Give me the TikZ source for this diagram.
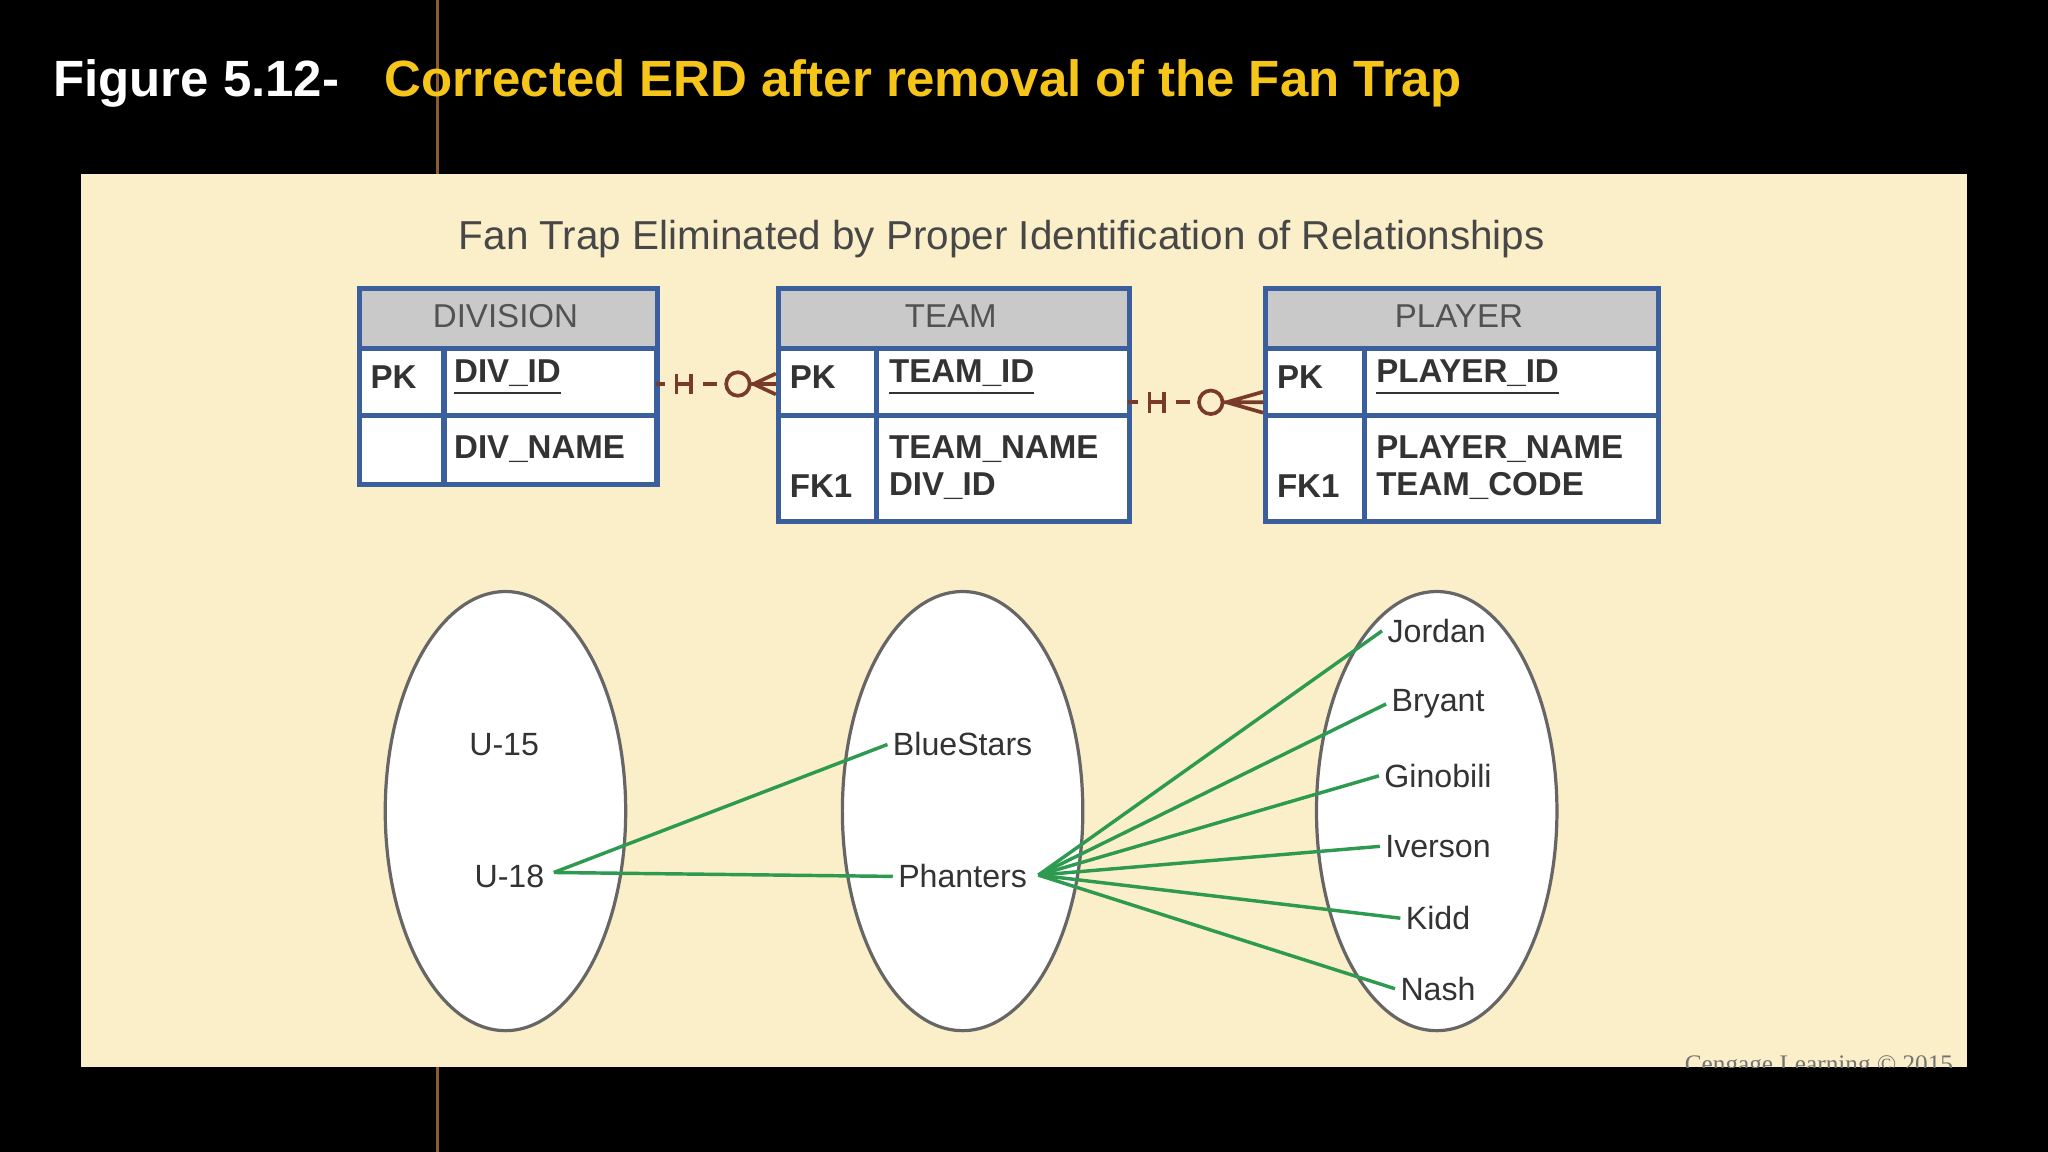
\documentclass[tikz,border=0pt]{standalone}
\usepackage{fontspec}
\setmainfont{Liberation Sans}
\newfontfamily\seriffont{Liberation Serif}
\usetikzlibrary{shapes.geometric}
\definecolor{panel}{HTML}{FBEFC9}
\definecolor{tblue}{HTML}{3B5E9C}
\definecolor{thead}{HTML}{C9C9C9}
\definecolor{ink}{HTML}{333333}
\definecolor{rel}{HTML}{7A3A2A}
\definecolor{grn}{HTML}{2E9A50}
\definecolor{ttl}{HTML}{F6C51A}
\definecolor{vline}{HTML}{8A5A30}
\tikzset{
 cellbox/.style={draw=tblue,line width=1.1pt,anchor=north west,inner sep=0pt},
 hdr/.style={cellbox,fill=thead},
 body/.style={cellbox,fill=white},
 ttxt/.style={text=ink,font=\fontsize{7.2}{8}\selectfont\bfseries,anchor=west,inner sep=0pt},
 htxt/.style={text=ink!85,font=\fontsize{7.2}{8}\selectfont,inner sep=0pt},
 elab/.style={text=ink,font=\fontsize{7}{8}\selectfont,inner sep=1pt},
 oval/.style={draw=black!60,line width=0.7pt,fill=white,ellipse,minimum width=1.84cm,minimum height=3.36cm,inner sep=0pt},
 relline/.style={draw=rel,line width=0.8pt},
 gl/.style={draw=grn,line width=0.75pt},
}
\newcommand\ul[1]{\underline{#1}}
\begin{document}
\begin{tikzpicture}[x=0.01cm,y=-0.01cm]
\useasboundingbox (0,0) rectangle (1568,882);
\fill[black] (0,0) rectangle (1568,882);
\draw[vline,line width=0.5pt] (335,0) -- (335,882);
\node[anchor=west,text=white,font=\fontsize{11.1}{12}\selectfont\bfseries,inner sep=0pt] (fig) at (40,64) {Figure 5.12\textbf{-}};
\node[anchor=west,text=ttl,font=\fontsize{11.1}{12}\selectfont\bfseries,inner sep=0pt] (ttl) at (294,64) {Corrected ERD after removal of the Fan Trap};
\fill[panel] (62,133) rectangle (1506,817);
\begin{scope}
\clip (62,133) rectangle (1506,817);
\node[anchor=east,text=black!55,font=\seriffont\fontsize{5.5}{6}\selectfont,inner sep=0pt] (copy) at (1496,817) {Cengage Learning \textcopyright{} 2015};
\end{scope}
\node[text=ink!90,font=\fontsize{8.8}{10}\selectfont,inner sep=0pt] (ptitle) at (767,183) {Fan Trap Eliminated by Proper Identification of Relationships};
% DIVISION
\node[hdr,minimum width=2.28cm,minimum height=0.46cm] (dh) at (273,219) {};
\node[body,minimum width=0.65cm,minimum height=0.51cm] (dk1) at (273,265) {};
\node[body,minimum width=1.63cm,minimum height=0.51cm] (d1) at (338,265) {};
\node[body,minimum width=0.65cm,minimum height=0.53cm] (dk2) at (273,316) {};
\node[body,minimum width=1.63cm,minimum height=0.53cm] (d2) at (338,316) {};
\node[htxt] (dht) at (387,242) {DIVISION};
\node[ttxt] (dpk) at (283,289) {PK};
\node[ttxt] (did) at (347,289) {\ul{DIV\_ID}};
\node[ttxt] (dnm) at (347,344) {DIV\_NAME};
% TEAM
\node[hdr,minimum width=2.69cm,minimum height=0.46cm] (th) at (594,219) {};
\node[body,minimum width=0.75cm,minimum height=0.51cm] (tk1) at (594,265) {};
\node[body,minimum width=1.94cm,minimum height=0.51cm] (t1) at (669,265) {};
\node[body,minimum width=0.75cm,minimum height=0.81cm] (tk2) at (594,316) {};
\node[body,minimum width=1.94cm,minimum height=0.81cm] (t2) at (669,316) {};
\node[htxt] (tht) at (728,242) {TEAM};
\node[ttxt] (tpk) at (604,289) {PK};
\node[ttxt] (tid) at (680,289) {\ul{TEAM\_ID}};
\node[ttxt] (tnm) at (680,344) {TEAM\_NAME};
\node[ttxt] (tfk) at (604,372) {FK1};
\node[ttxt] (tdv) at (680,372) {DIV\_ID};
% PLAYER
\node[hdr,minimum width=3.01cm,minimum height=0.46cm] (ph) at (967,219) {};
\node[body,minimum width=0.76cm,minimum height=0.51cm] (pk1) at (967,265) {};
\node[body,minimum width=2.25cm,minimum height=0.51cm] (p1) at (1043,265) {};
\node[body,minimum width=0.76cm,minimum height=0.81cm] (pk2) at (967,316) {};
\node[body,minimum width=2.25cm,minimum height=0.81cm] (p2) at (1043,316) {};
\node[htxt] (pht) at (1117,242) {PLAYER};
\node[ttxt] (ppk) at (977,289) {PK};
\node[ttxt] (pid) at (1053,289) {\ul{PLAYER\_ID}};
\node[ttxt] (pnm) at (1053,344) {PLAYER\_NAME};
\node[ttxt] (pfk) at (977,372) {FK1};
\node[ttxt] (ptc) at (1053,372) {TEAM\_CODE};
% relationships
\foreach \a/\b/\y in {501/594/294,863/967/308}{
 \draw[relline] (\a+1,\y) -- (\a+8,\y);
 \draw[relline] (\a+17,\y-8) -- (\a+17,\y+8) (\a+28,\y-8) -- (\a+28,\y+8) (\a+17,\y) -- (\a+28,\y);
 \draw[relline] (\a+37,\y) -- (\a+48,\y);
 \draw[relline] (\a+64,\y) circle (9);
 \draw[relline] (\a+73,\y) -- (\b,\y) (\a+76,\y) -- (\b,\y-8) (\a+76,\y) -- (\b,\y+8);
}
% ovals
\node[oval] (od) at (387,621) {};
\node[oval] (ot) at (737,621) {};
\node[oval] (op) at (1100,621) {};
\node[elab] (u15) at (386,570) {U-15};
\node[elab] (u18) at (390,671) {U-18};
\node[elab] (blue) at (737,570) {BlueStars};
\node[elab] (phan) at (737,671) {Phanters};
\node[elab] (jor) at (1100,483) {Jordan};
\node[elab] (bry) at (1101,539) {Bryant};
\node[elab] (gin) at (1101,594) {Ginobili};
\node[elab] (ive) at (1101,648) {Iverson};
\node[elab] (kid) at (1101,703) {Kidd};
\node[elab] (nas) at (1101,757) {Nash};
\coordinate (u18e) at (424,668);
\coordinate (phe) at (795,670);
\draw[gl] (u18e) -- (blue.west);
\draw[gl] (u18e) -- (phan.west);
\draw[gl] (phe) -- (jor.west);
\draw[gl] (phe) -- (bry.west);
\draw[gl] (phe) -- (gin.west);
\draw[gl] (phe) -- (ive.west);
\draw[gl] (phe) -- (kid.west);
\draw[gl] (phe) -- (nas.west);
\end{tikzpicture}
\end{document}
